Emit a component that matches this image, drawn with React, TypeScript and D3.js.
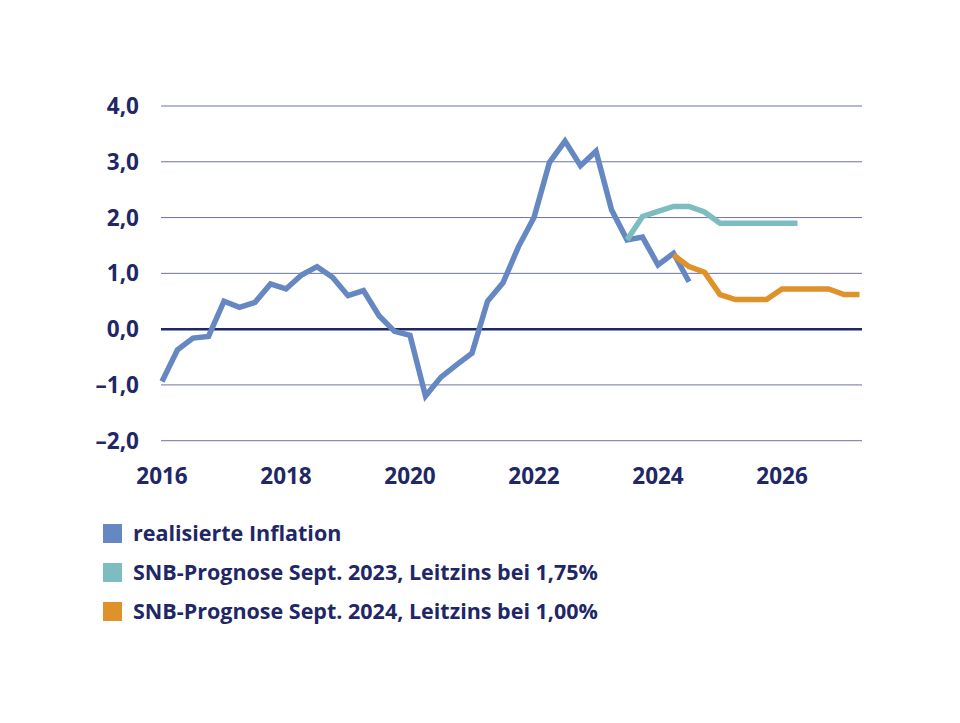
import React from "react";
import * as d3 from "d3";

const startYear = 2016;
const realisiert = [
  -0.94, -0.37, -0.16, -0.13, 0.5, 0.39, 0.48, 0.81, 0.72, 0.97, 1.12, 0.93, 0.6, 0.69, 0.24, -0.04,
  -0.11, -1.2, -0.86, -0.64, -0.43, 0.5, 0.83, 1.48, 2.0, 2.99, 3.37, 2.93, 3.19, 2.14, 1.6, 1.65,
  1.15, 1.36, 0.85,
];
const prognose2023Start = 2023.5;
const prognose2023 = [1.6, 2.02, 2.11, 2.2, 2.2, 2.1, 1.9, 1.9, 1.9, 1.9, 1.9, 1.9];
const prognose2024Start = 2024.25;
const prognose2024 = [1.33, 1.12, 1.02, 0.62, 0.53, 0.53, 0.53, 0.72, 0.72, 0.72, 0.72, 0.62, 0.62];
const yTicks = [-2, -1, 0, 1, 2, 3, 4];
const xTicks = [2016, 2018, 2020, 2022, 2024, 2026];
const legendLabels = [
  "realisierte Inflation",
  "SNB-Prognose Sept. 2023, Leitzins bei 1,75%",
  "SNB-Prognose Sept. 2024, Leitzins bei 1,00%",
];
const colors = ["#6588c3", "#7dbdc2", "#e0922a"];

const navy = "#1f2766";
const font = "'Open Sans', 'Noto Sans', sans-serif";

export default function App() {
  const W = 960, H = 723;
  const x = d3.scaleLinear().domain([2016, 2027.29]).range([162, 862]);
  const y = d3.scaleLinear().domain([-2, 4]).range([440.7, 106]);
  const line = d3
    .line<[number, number]>()
    .x((d) => x(d[0]))
    .y((d) => y(d[1]));
  const toPts = (start: number, vals: number[]) =>
    vals.map((v, i) => [start + i * 0.25, v] as [number, number]);
  const series = [
    toPts(startYear, realisiert),
    toPts(prognose2023Start, prognose2023),
    toPts(prognose2024Start, prognose2024),
  ];
  return (
    <svg
      width={W}
      height={H}
      style={{ position: "absolute", left: 0, top: 0, background: "#fff" }}
      fontFamily={font}
    >
      {yTicks.map((t) => (
        <g key={t}>
          <line
            x1={161}
            x2={862}
            y1={y(t)}
            y2={y(t)}
            stroke={t === 0 ? navy : "#6d72a8"}
            strokeWidth={t === 0 ? 2.5 : 1}
          />
          <text
            x={139}
            y={y(t)}
            dy="0.36em"
            textAnchor="end"
            fontSize={22.5}
            fontWeight={700}
            fill={navy}
          >
            {(t < 0 ? "\u2013" + Math.abs(t) : String(t)) + ",0"}
          </text>
        </g>
      ))}
      {xTicks.map((t) => (
        <text
          key={t}
          x={x(t)}
          y={484}
          textAnchor="middle"
          fontSize={22.5}
          fontWeight={700}
          fill={navy}
        >
          {t}
        </text>
      ))}
      {series.map((s, i) => (
        <path
          key={i}
          d={line(s) || ""}
          fill="none"
          stroke={colors[i]}
          strokeWidth={5.5}
          strokeLinejoin="miter"
          strokeLinecap="butt"
        />
      ))}
      {legendLabels.map((l, i) => (
        <g key={l} transform={`translate(103, ${524 + i * 39})`}>
          <rect width={19} height={19} fill={colors[i]} />
          <text x={30} y={9.5} dy="0.36em" fontSize={21.5} fontWeight={700} fill={navy}>
            {l}
          </text>
        </g>
      ))}
    </svg>
  );
}
